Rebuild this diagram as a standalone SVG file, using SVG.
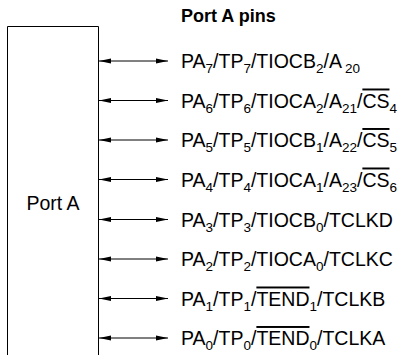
<svg xmlns="http://www.w3.org/2000/svg" width="409" height="355" viewBox="0 0 409 355">
<style>
.t{font-family:"Liberation Sans",Arial,sans-serif;font-size:19.5px;fill:#000}
.s{font-size:13.5px}
.o{text-decoration:overline}
.ln{stroke:#000;stroke-width:1;fill:none}
</style>
<defs>
<marker id="ah" markerWidth="12" markerHeight="6" refX="12" refY="3" orient="auto-start-reverse" markerUnits="userSpaceOnUse">
<path d="M0,0.5 L12,3 L0,5.5 Z" fill="#000"/>
</marker>
</defs>
<rect width="409" height="355" fill="#fff"/>
<g id="portA">
<path class="ln" d="M7.5,356 V26.5 H98.5 V356"/>
<text class="t" x="53" y="210" text-anchor="middle">Port A</text>
</g>
<text id="title" x="181" y="22" style="font-family:'Liberation Sans',Arial,sans-serif;font-size:18px;font-weight:bold">Port A pins</text>
<g id="connectors">
<line class="ln" x1="99" y1="61" x2="168" y2="61" marker-start="url(#ah)" marker-end="url(#ah)"/>
<line class="ln" x1="99" y1="100.5" x2="168" y2="100.5" marker-start="url(#ah)" marker-end="url(#ah)"/>
<line class="ln" x1="99" y1="140" x2="168" y2="140" marker-start="url(#ah)" marker-end="url(#ah)"/>
<line class="ln" x1="99" y1="179.5" x2="168" y2="179.5" marker-start="url(#ah)" marker-end="url(#ah)"/>
<line class="ln" x1="99" y1="219.5" x2="168" y2="219.5" marker-start="url(#ah)" marker-end="url(#ah)"/>
<line class="ln" x1="99" y1="259" x2="168" y2="259" marker-start="url(#ah)" marker-end="url(#ah)"/>
<line class="ln" x1="99" y1="298.5" x2="168" y2="298.5" marker-start="url(#ah)" marker-end="url(#ah)"/>
<line class="ln" x1="99" y1="338" x2="168" y2="338" marker-start="url(#ah)" marker-end="url(#ah)"/>
</g>
<g id="pa7"><text class="t" x="181" y="68">PA<tspan class="s" dy="5">7</tspan><tspan dy="-5">/TP</tspan><tspan class="s" dy="5">7</tspan><tspan dy="-5">/TIOCB</tspan><tspan class="s" dy="5">2</tspan><tspan dy="-5">/A</tspan><tspan class="s" dy="5" dx="3">20</tspan></text></g>
<g id="pa6"><text class="t" x="181" y="107.5">PA<tspan class="s" dy="5">6</tspan><tspan dy="-5">/TP</tspan><tspan class="s" dy="5">6</tspan><tspan dy="-5">/TIOCA</tspan><tspan class="s" dy="5">2</tspan><tspan dy="-5">/A</tspan><tspan class="s" dy="5">21</tspan><tspan dy="-5">/</tspan><tspan class="o">CS</tspan><tspan class="s" dy="5">4</tspan></text></g>
<g id="pa5"><text class="t" x="181" y="147">PA<tspan class="s" dy="5">5</tspan><tspan dy="-5">/TP</tspan><tspan class="s" dy="5">5</tspan><tspan dy="-5">/TIOCB</tspan><tspan class="s" dy="5">1</tspan><tspan dy="-5">/A</tspan><tspan class="s" dy="5">22</tspan><tspan dy="-5">/</tspan><tspan class="o">CS</tspan><tspan class="s" dy="5">5</tspan></text></g>
<g id="pa4"><text class="t" x="181" y="186.5">PA<tspan class="s" dy="5">4</tspan><tspan dy="-5">/TP</tspan><tspan class="s" dy="5">4</tspan><tspan dy="-5">/TIOCA</tspan><tspan class="s" dy="5">1</tspan><tspan dy="-5">/A</tspan><tspan class="s" dy="5">23</tspan><tspan dy="-5">/</tspan><tspan class="o">CS</tspan><tspan class="s" dy="5">6</tspan></text></g>
<g id="pa3"><text class="t" x="181" y="226.5">PA<tspan class="s" dy="5">3</tspan><tspan dy="-5">/TP</tspan><tspan class="s" dy="5">3</tspan><tspan dy="-5">/TIOCB</tspan><tspan class="s" dy="5">0</tspan><tspan dy="-5">/TCLKD</tspan></text></g>
<g id="pa2"><text class="t" x="181" y="266">PA<tspan class="s" dy="5">2</tspan><tspan dy="-5">/TP</tspan><tspan class="s" dy="5">2</tspan><tspan dy="-5">/TIOCA</tspan><tspan class="s" dy="5">0</tspan><tspan dy="-5">/TCLKC</tspan></text></g>
<g id="pa1"><text class="t" x="181" y="305.5">PA<tspan class="s" dy="5">1</tspan><tspan dy="-5">/TP</tspan><tspan class="s" dy="5">1</tspan><tspan dy="-5">/</tspan><tspan class="o">TEND</tspan><tspan class="s" dy="5">1</tspan><tspan dy="-5">/TCLKB</tspan></text></g>
<g id="pa0"><text class="t" x="181" y="345">PA<tspan class="s" dy="5">0</tspan><tspan dy="-5">/TP</tspan><tspan class="s" dy="5">0</tspan><tspan dy="-5">/</tspan><tspan class="o">TEND</tspan><tspan class="s" dy="5">0</tspan><tspan dy="-5">/TCLKA</tspan></text></g>
</svg>
